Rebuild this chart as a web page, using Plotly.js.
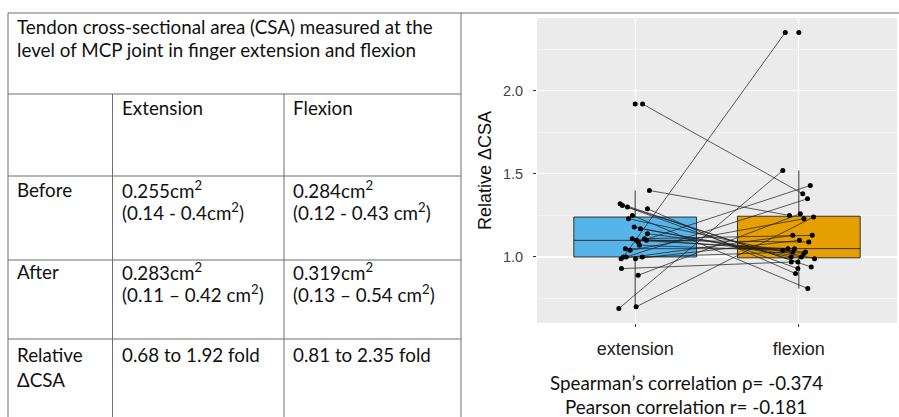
<!DOCTYPE html>
<html>
<head>
<meta charset="utf-8">
<script src="https://cdn.plot.ly/plotly-3.0.1.min.js"></script>
<style>html,body{margin:0;padding:0;background:#fff;}#chart{width:899px;height:417px;}</style>
</head>
<body>
<div id="chart"></div>
<script>
// ---- data (pairs in the same order) ----
const categories = ['extension', 'flexion'];
const extValues  = [1.92, 1.40, 0.69, 1.00, 1.09, 1.00, 0.70, 0.89, 0.93, 1.25, 1.29, 1.32, 1.31, 1.30,
                    1.23, 1.18, 1.17, 1.14, 1.11, 1.10, 1.11, 1.10, 1.07, 1.04, 0.99, 0.99, 1.00, 1.05];
const extJitter  = [0.045, 0.087, -0.100, -0.072, 0.018, -0.055, 0.006, 0.018, -0.084, -0.017, 0.075, -0.092, -0.078, -0.047,
                    -0.041, -0.006, 0.032, 0.075, -0.018, 0.008, 0.057, 0.069, 0.026, -0.031, -0.086, 0.002, 0.043, -0.060];
const flexValues = [1.38, 1.25, 1.52, 2.35, 1.43, 1.35, 1.24, 1.26, 0.97, 0.81, 0.90, 0.94, 0.93, 0.97,
                    0.99, 1.00, 1.00, 1.02, 1.03, 1.05, 1.13, 1.09, 1.04, 1.23, 1.13, 1.10, 1.03, 1.05];
const flexJitter = [0.024, -0.057, -0.098, -0.083, 0.070, 0.053, 0.090, 0.009, -0.046, 0.055, -0.020, 0.076, -0.006, -0.006,
                    0.096, -0.046, 0.015, 0.031, 0.041, -0.067, 0.082, 0.061, -0.098, 0.031, -0.037, 0.004, -0.037, -0.026];
const boxColors = ['#56B4E9', '#E69F00'];

// ---- table text ----
const tableTitle = ['Tendon cross-sectional area (CSA) measured at the', 'level of MCP joint in finger extension and flexion'];
const colHeaders = ['Extension', 'Flexion'];
const rowLabels  = [['Before'], ['After'], ['Relative', '\u0394CSA']];
const extCells   = [['0.255cm<sup>2</sup>', '(0.14 - 0.4cm<sup>2</sup>)'],
                    ['0.283cm<sup>2</sup>', '(0.11 \u2013 0.42 cm<sup>2</sup>)'],
                    ['0.68 to 1.92 fold']];
const flexCells  = [['0.284cm<sup>2</sup>', '(0.12 - 0.43 cm<sup>2</sup>)'],
                    ['0.319cm<sup>2</sup>', '(0.13 \u2013 0.54 cm<sup>2</sup>)'],
                    ['0.81 to 2.35 fold']];
const corrText   = ['Spearman\u2019s correlation \u03c1= -0.374', 'Pearson correlation r= -0.181'];

// ---- layout geometry (pixels) ----
const W = 899, H = 417;
const M = {l: 537, r: 2, t: 18, b: 94};
const PW = W - M.l - M.r, PH = H - M.t - M.b;
const px = v => (v - M.l) / PW;
const py = v => (H - M.b - v) / PH;

const tableFont = {family: 'Lato, Carlito, "Open Sans", sans-serif', size: 18.8, color: '#111'};
const lineCol = '#6e6e6e';

const shapes = [];
function hline(y, x0, x1) { shapes.push({type: 'line', xref: 'paper', yref: 'paper', x0: px(x0), x1: px(x1), y0: py(y), y1: py(y), line: {color: lineCol, width: 1}}); }
function vline(x, y0, y1) { shapes.push({type: 'line', xref: 'paper', yref: 'paper', x0: px(x), x1: px(x), y0: py(y0), y1: py(y1), line: {color: lineCol, width: 1}}); }
hline(13, 8, 899);
hline(94, 8, 461);
hline(176, 8, 461);
hline(260, 8, 461);
hline(339, 8, 461);
vline(8, 13, 417);
vline(112.5, 94, 417);
vline(284, 94, 417);
vline(461, 13, 417);

const annotations = [];
function txt(t, x, y, anchor, font) {
  annotations.push({text: t, xref: 'paper', yref: 'paper', x: px(x), y: py(y), xanchor: anchor || 'left', yanchor: 'middle',
                    showarrow: false, font: font || tableFont});
}
tableTitle.forEach((t, i) => txt(t, 15, 26 + i * 23.5));
txt(colHeaders[0], 120, 107);
txt(colHeaders[1], 291, 107);
const rowY = [189, 271, 354];
rowLabels.forEach((lines, r) => lines.forEach((t, i) => txt(t, 15, rowY[r] + i * 25)));
extCells.forEach((lines, r) => lines.forEach((t, i) => txt(t, 120, rowY[r] + i * 22)));
flexCells.forEach((lines, r) => lines.forEach((t, i) => txt(t, 291, rowY[r] + i * 22)));
corrText.forEach((t, i) => txt(t, 686, 382 + i * 24, 'center'));

// ---- traces ----
const traces = [];
[extValues, flexValues].forEach((vals, k) => {
  traces.push({type: 'box', y: vals, x0: k, name: categories[k], width: 0.75,
               fillcolor: boxColors[k], line: {color: '#333333', width: 1}, whiskerwidth: 0,
               boxpoints: 'outliers', pointpos: 0, jitter: 0,
               marker: {color: '#000', size: 5, line: {width: 0}}, hoverinfo: 'y'});
});
const lx = [], ly = [];
extValues.forEach((v, i) => {
  lx.push(0 + extJitter[i], 1 + flexJitter[i], null);
  ly.push(v, flexValues[i], null);
});
traces.push({type: 'scatter', mode: 'lines', x: lx, y: ly, line: {color: 'rgba(30,30,30,0.8)', width: 0.9}, hoverinfo: 'skip'});
traces.push({type: 'scatter', mode: 'markers', x: extJitter.map(j => 0 + j), y: extValues, marker: {color: '#000', size: 5}});
traces.push({type: 'scatter', mode: 'markers', x: flexJitter.map(j => 1 + j), y: flexValues, marker: {color: '#000', size: 5}});

const layout = {
  width: W, height: H, margin: M,
  paper_bgcolor: '#fff', plot_bgcolor: '#EBEBEB',
  showlegend: false,
  font: {family: 'Liberation Sans, Arial, sans-serif'},
  xaxis: {range: [-0.6, 1.6], tickmode: 'array', tickvals: [0, 1], ticktext: categories,
          showgrid: true, gridcolor: '#fff', gridwidth: 1.1, zeroline: false, showline: false,
          ticks: 'outside', ticklen: 3, tickcolor: '#333', tickwidth: 1,
          tickfont: {size: 18, color: '#222'}, ticklabelstandoff: 6, fixedrange: true},
  yaxis: {range: [0.603, 2.437], tick0: 0, dtick: 0.5, tickformat: '.1f',
          showgrid: true, gridcolor: '#fff', gridwidth: 1.1, zeroline: false, showline: false,
          minor: {dtick: 0.25, showgrid: true, gridcolor: '#fff', gridwidth: 0.5},
          ticks: 'outside', ticklen: 3, tickcolor: '#333', tickwidth: 1,
          tickfont: {size: 14.5, color: '#444'}, ticklabelstandoff: 7,
          title: {text: 'Relative \u0394CSA', font: {size: 18, color: '#111'}, standoff: 6}, fixedrange: true},
  shapes: shapes, annotations: annotations
};
Plotly.newPlot('chart', traces, layout, {displayModeBar: false, staticPlot: true});
</script>
</body>
</html>
